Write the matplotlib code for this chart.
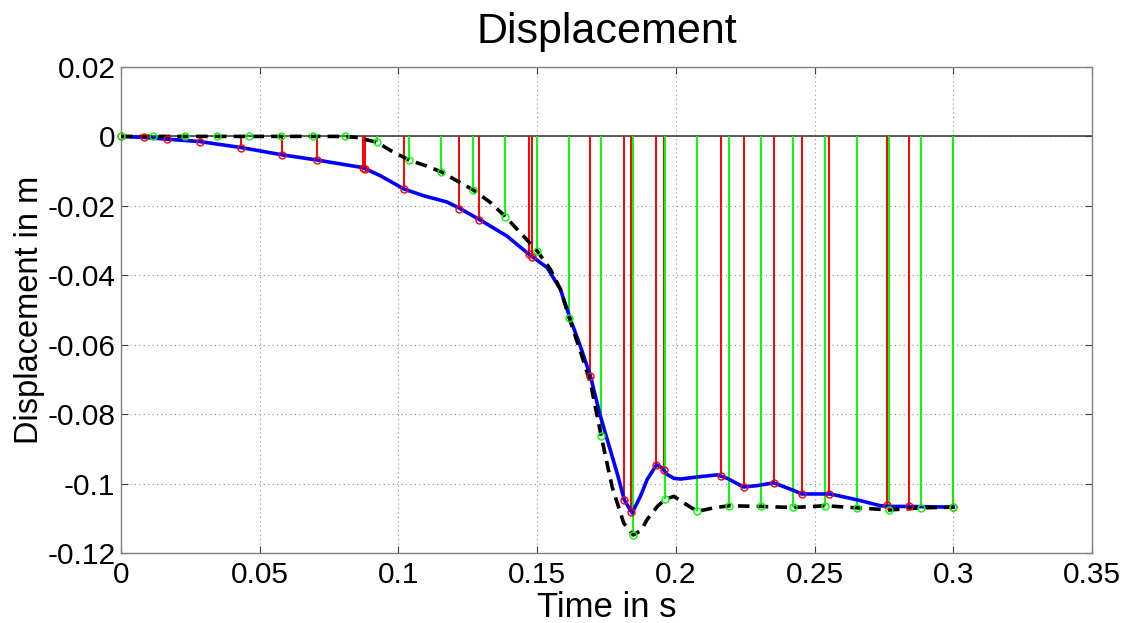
import matplotlib
matplotlib.use("Agg")
import matplotlib.pyplot as plt

plt.rcParams['font.family'] = ['Liberation Sans', 'DejaVu Sans']
plt.rcParams['axes.unicode_minus'] = False

# Continuous response curves
t_blue = [0, 0.0083, 0.0167, 0.0285, 0.0432, 0.0580, 0.0706, 0.0872, 0.0934,
          0.1021, 0.1091, 0.1175, 0.1218, 0.1295, 0.1391, 0.1471, 0.1536,
          0.1584, 0.1620, 0.1656, 0.1692, 0.1728, 0.1752, 0.1790, 0.1814,
          0.1842, 0.1872, 0.1896, 0.1930, 0.1950, 0.1969, 0.1993, 0.2017,
          0.2077, 0.2149, 0.2185, 0.2244, 0.2293, 0.2353, 0.2425, 0.2453,
          0.2556, 0.2654, 0.2738, 0.2774, 0.2842, 0.3000]
d_blue = [0, -0.0003, -0.0008, -0.0015, -0.0032, -0.0053, -0.0068, -0.0090,
          -0.0113, -0.0152, -0.0171, -0.0189, -0.0206, -0.0241, -0.0287,
          -0.0340, -0.0378, -0.0441, -0.0527, -0.0605, -0.0691, -0.0806,
          -0.0872, -0.0975, -0.1047, -0.1085, -0.1037, -0.0989, -0.0946,
          -0.0955, -0.0974, -0.0985, -0.0987, -0.0981, -0.0975, -0.0985,
          -0.1010, -0.1006, -0.0998, -0.1020, -0.1030, -0.1030, -0.1047,
          -0.1064, -0.1066, -0.1066, -0.1068]

t_black = [0, 0.0800, 0.0850, 0.0923, 0.0970, 0.1038, 0.1100, 0.1154,
           0.1211, 0.1269, 0.1331, 0.1385, 0.1439, 0.1500, 0.1548, 0.1584,
           0.1615, 0.1656, 0.1692, 0.1731, 0.1770, 0.1812, 0.1846, 0.1875,
           0.1896, 0.1933, 0.1962, 0.1993, 0.2029, 0.2077, 0.2137, 0.2192,
           0.2308, 0.2423, 0.2538, 0.2654, 0.2769, 0.2885, 0.3000]
d_black = [0, 0, -0.0003, -0.0017, -0.0040, -0.0068, -0.0085, -0.0102,
           -0.0128, -0.0154, -0.0190, -0.0231, -0.0277, -0.0330, -0.0383,
           -0.0441, -0.0522, -0.0620, -0.0710, -0.0864, -0.1009, -0.1114,
           -0.1148, -0.1135, -0.1104, -0.1066, -0.1045, -0.1037, -0.1056,
           -0.1080, -0.1070, -0.1064, -0.1066, -0.1069, -0.1064, -0.1070,
           -0.1076, -0.1070, -0.1068]

# Solver output samples (stems)
t_red = [0, 0.0083, 0.0167, 0.0285, 0.0432, 0.0580, 0.0706, 0.0872, 0.0878,
         0.1021, 0.1218, 0.1291, 0.1471, 0.1482, 0.1692, 0.1814, 0.1839,
         0.1929, 0.1956, 0.2161, 0.2244, 0.2355, 0.2453, 0.2552, 0.2760,
         0.2842, 0.3000]
d_red = [0, -0.0003, -0.0008, -0.0015, -0.0032, -0.0053, -0.0068, -0.0090,
         -0.0093, -0.0152, -0.0208, -0.0242, -0.0340, -0.0346, -0.0691,
         -0.1047, -0.1083, -0.0946, -0.0960, -0.0978, -0.1010, -0.0999,
         -0.1030, -0.1030, -0.1061, -0.1064, -0.1068]

t_green = [0, 0.0115, 0.0231, 0.0346, 0.0462, 0.0577, 0.0692, 0.0808,
           0.0923, 0.1038, 0.1154, 0.1269, 0.1385, 0.1500, 0.1615, 0.1731,
           0.1846, 0.1962, 0.2077, 0.2192, 0.2308, 0.2423, 0.2538, 0.2654,
           0.2769, 0.2885, 0.3000]
d_green = [0, 0, 0, 0, 0, 0, 0, 0, -0.0017, -0.0068, -0.0102, -0.0154,
           -0.0231, -0.0330, -0.0522, -0.0864, -0.1148, -0.1045, -0.1080,
           -0.1064, -0.1066, -0.1069, -0.1064, -0.1070, -0.1076, -0.1070,
           -0.1068]

x_ticks = [0, 0.05, 0.1, 0.15, 0.2, 0.25, 0.3, 0.35]
x_tick_labels = ['0', '0.05', '0.1', '0.15', '0.2', '0.25', '0.3', '0.35']
y_ticks = [0.02, 0, -0.02, -0.04, -0.06, -0.08, -0.1, -0.12]
y_tick_labels = ['0.02', '0', '-0.02', '-0.04', '-0.06', '-0.08', '-0.1', '-0.12']

fig = plt.figure(figsize=(11.3, 6.23), dpi=100)
ax = fig.add_axes([0.1071, 0.1124, 0.8593, 0.7801])

ax.axhline(0, color='#404040', lw=1.2, zorder=2)

red = '#ff0000'
green = '#00ff00'
ax.vlines(t_red, 0, d_red, colors=red, lw=1.4, zorder=2)
ax.vlines(t_green, 0, d_green, colors=green, lw=1.4, zorder=2)

ax.plot(t_blue, d_blue, color='#0000ff', lw=2.6, zorder=3)
ax.plot(t_black, d_black, color='black', lw=2.6, ls=(0, (3.2, 2.0)), zorder=4)

ax.plot(t_red, d_red, 'o', ms=5, mfc='none', mec=red, mew=1.0, zorder=5, clip_on=False)
ax.plot(t_green, d_green, 'o', ms=5, mfc='none', mec=green, mew=1.0, zorder=5, clip_on=False)

ax.set_xlim(0, 0.35)
ax.set_ylim(-0.12, 0.02)
ax.set_xticks(x_ticks)
ax.set_xticklabels(x_tick_labels)
ax.set_yticks(y_ticks)
ax.set_yticklabels(y_tick_labels)

ax.grid(True, color='#909090', ls=(0, (1, 3)), lw=0.8)
ax.tick_params(direction='in', length=5, width=0.8, top=True, right=True,
               labelsize=21.5, colors='#404040', labelcolor='black')
ax.tick_params(axis='x', pad=6)
ax.tick_params(axis='y', pad=4)
for sp in ax.spines.values():
    sp.set_color('#808080')
    sp.set_linewidth(1.0)

ax.set_title('Displacement', fontsize=31, pad=17)
ax.set_xlabel('Time in s', fontsize=25, labelpad=1)
ax.set_ylabel('Displacement in m', fontsize=23.5, labelpad=2)

fig.savefig('out.png', dpi=100)
